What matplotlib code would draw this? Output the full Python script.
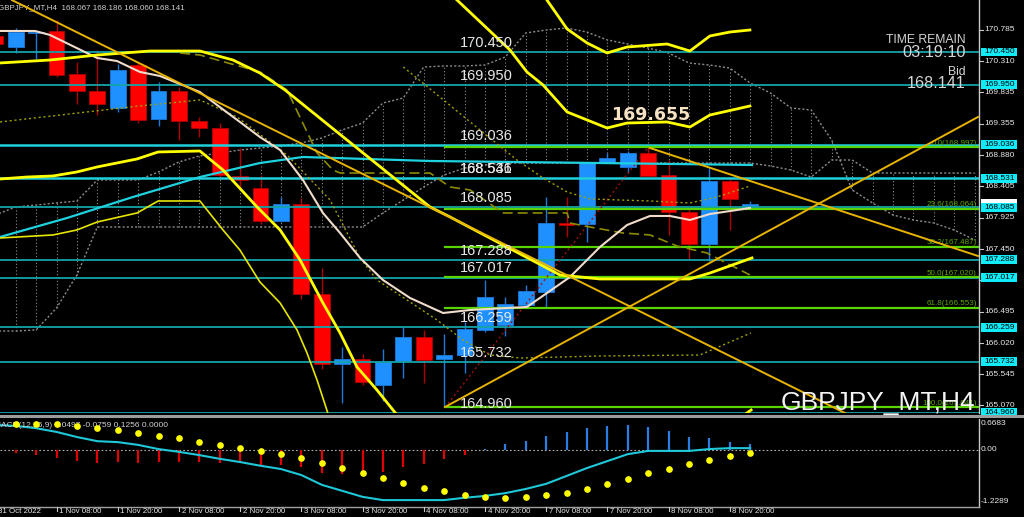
import matplotlib
matplotlib.use("Agg")
import matplotlib.pyplot as plt
import matplotlib.transforms as mtransforms
from matplotlib import font_manager
from matplotlib.patches import Rectangle

# ---------------- datos (indice de barra H4: 0 = 1 Nov 00:00) ----------------
bars = list(range(-1, 37))
opens = [170.694, 170.526, 170.739, 170.770, 170.115, 169.856, 169.598, 170.252, 169.430, 169.856,
         169.400, 169.293, 168.563, 168.380, 167.878, 168.136, 166.767, 165.701, 165.777, 165.382,
         165.747, 166.112, 165.777, 165.838, 166.219, 166.295, 166.599, 166.797, 167.847, 167.832,
         168.760, 168.700, 168.913, 168.578, 168.015, 167.528, 168.487, 168.067]
highs = [170.739, 170.815, 170.770, 170.937, 170.298, 170.480, 170.267, 170.298, 169.993, 169.917,
         169.461, 169.369, 168.989, 168.578, 168.243, 168.228, 167.162, 165.959, 165.853, 165.929,
         166.264, 166.219, 166.158, 166.340, 166.980, 166.721, 166.904, 168.243, 168.243, 168.760,
         168.913, 168.950, 168.997, 168.806, 168.060, 168.685, 168.532, 168.186]
lows = [170.526, 170.435, 170.343, 170.070, 169.658, 169.491, 169.537, 169.369, 169.324, 169.111,
        169.156, 168.532, 168.350, 167.832, 167.863, 166.691, 165.625, 165.107, 165.382, 165.138,
        165.488, 165.412, 165.041, 165.564, 166.188, 166.127, 166.599, 166.569, 167.634, 167.558,
        168.760, 168.608, 168.563, 167.665, 167.299, 167.269, 167.741, 168.060]
closes = [170.572, 170.754, 170.754, 170.100, 169.856, 169.658, 170.176, 169.415, 169.856, 169.400,
          169.293, 168.578, 168.502, 167.878, 168.136, 166.767, 165.701, 165.777, 165.427, 165.732,
          166.112, 165.762, 165.838, 166.234, 166.721, 166.615, 166.812, 167.847, 167.817, 168.760,
          168.836, 168.913, 168.563, 168.015, 167.528, 168.487, 168.213, 168.141]

# nube (lineas punteadas grises)
cloud_bars = list(range(-1, 48))
span_a = [167.969, 168.091, 168.121, 168.152, 168.182, 168.502, 168.502, 168.502, 168.624, 168.776,
          168.867, 168.913, 168.958, 168.989, 169.019, 169.065, 169.141, 169.263, 169.369, 169.674,
          169.750, 170.222, 170.237, 170.237, 170.252, 170.374, 170.739, 170.785, 170.815, 170.754,
          170.633, 170.572, 170.511, 170.435, 170.283, 170.252, 170.206, 169.978, 169.826, 169.598,
          169.567, 169.110, 168.350, 168.152, 167.969, 167.893, 167.847, 167.741, 167.589]
span_b = [166.203, 166.203, 166.219, 166.553, 167.056, 167.786, 167.786, 167.786, 167.786, 167.786,
          167.786, 167.786, 167.786, 167.786, 167.786, 167.786, 167.786, 167.786, 167.786, 168.000,
          168.197, 168.395, 168.578, 168.684, 168.730, 168.760, 168.760, 168.760, 168.760, 168.760,
          168.760, 168.760, 168.760, 168.760, 168.760, 168.760, 168.760, 168.760, 168.715, 168.654,
          168.547, 168.806, 168.806, 168.608, 168.608, 168.608, 168.608, 168.608, 168.608]

# bandas amarillas
band1_x = [-0.77, 1.68, 3.99, 6.58, 9.03, 10.65, 11.97, 13.20, 20.31, 21.29, 26.68, 28.64, 33.05, 34.03, 36.09]
band1_y = [170.283, 170.328, 170.404, 170.465, 170.465, 170.328, 170.130, 169.872, 168.091, 167.939,
           167.056, 166.995, 166.995, 167.086, 167.315]
band2_x = [-0.77, 0.55, 1.83, 3.00, 3.99, 5.95, 6.98, 9.03, 10.16, 11.83, 12.96, 13.94, 15.06, 15.90,
           16.73, 17.71, 18.69]
band2_y = [168.517, 168.547, 168.563, 168.624, 168.700, 168.822, 168.928, 168.943, 168.654, 168.091,
           167.741, 167.284, 166.630, 166.173, 165.655, 165.305, 164.925]
band3_x = [-0.77, 1.83, 3.00, 3.99, 5.95, 6.98, 9.03, 10.16, 10.99, 11.97, 12.96, 13.79, 14.28, 14.77, 15.41]
band3_y = [167.619, 167.665, 167.741, 167.862, 168.000, 168.182, 168.182, 167.741, 167.436, 166.949,
           166.630, 166.219, 165.868, 165.458, 164.849]
band4_x = [20.80, 24.23, 25.06, 25.85, 27.03, 28.99, 29.97, 31.93, 33.05, 34.03, 35.99]
band4_y = [171.485, 170.480, 170.146, 169.948, 169.537, 169.293, 169.369, 169.385, 169.308, 169.491, 169.628]
band5_x = [25.46, 27.03, 28.01, 28.99, 29.97, 31.93, 33.05, 34.03, 35.01, 35.99]
band5_y = [171.500, 170.800, 170.587, 170.435, 170.526, 170.572, 170.465, 170.694, 170.754, 170.785]
band6_x = [35.50, 36.05]
band6_y = [164.879, 165.001]

# medias moviles
ma_beige_x = [-0.77, 0.95, 1.68, 3.99, 4.96, 6.09, 7.07, 9.03, 9.87, 10.99, 11.97, 12.96, 14.08, 15.06,
              15.90, 16.88, 18.00, 19.33, 20.95, 22.27, 25.06, 27.17, 28.64, 29.97, 31.09, 32.07, 33.05,
              34.03, 35.36, 35.99]
ma_beige_y = [170.770, 170.770, 170.709, 170.359, 170.313, 170.146, 170.085, 169.841, 169.643, 169.385,
              169.156, 168.958, 168.502, 168.000, 167.695, 167.315, 166.980, 166.706, 166.477, 166.523,
              166.569, 167.025, 167.482, 167.817, 167.954, 167.954, 167.893, 167.984, 168.045, 168.076]
ma_cyan_x = [-0.77, 2.51, 5.75, 9.03, 11.97, 14.08, 20.31, 28.64, 36.09]
ma_cyan_y = [167.634, 167.923, 168.243, 168.547, 168.760, 168.852, 168.791, 168.760, 168.730]
olive_dot_x = [-0.77, 5.60, 9.03, 10.85, 13.30, 15.41, 16.88, 17.71, 20.65, 21.93, 23.25, 24.72, 28.64,
               33.54, 36.04]
olive_dot_y = [169.385, 169.613, 169.720, 169.461, 168.882, 168.197, 167.315, 166.980, 166.371, 166.066,
               165.838, 165.792, 165.823, 165.838, 166.173]
olive_up_x = [19.00, 22.76, 24.57, 25.85, 27.03, 28.15, 31.09, 33.05, 34.38, 35.99]
olive_up_y = [170.222, 169.263, 168.806, 168.532, 168.319, 168.213, 168.182, 168.152, 168.243, 168.410]
olive_dash_x = [8.06, 9.03, 11.97, 13.30, 14.77, 15.55, 15.90, 20.31, 21.29, 22.27, 23.89, 27.03, 27.17,
                28.15, 29.77, 31.09, 32.42, 33.88, 35.99]
olive_dash_y = [170.435, 170.404, 170.146, 169.872, 168.913, 168.654, 168.608, 168.608, 168.395, 168.350,
                168.000, 168.000, 167.847, 167.786, 167.695, 167.665, 167.497, 167.391, 167.056]

# lineas de tendencia (extremos)
trend_down1 = ([-0.18, 41.14], [171.24, 164.879])
trend_down2 = ([31.09, 47.17], [168.989, 167.345])
trend_up = ([21.05, 47.17], [165.047, 169.461])
fib_diag = ([21.05, 31.0], [165.041, 168.997])

# niveles horizontales
level_prices = [170.450, 169.950, 169.036, 168.531, 168.085, 167.288, 167.017, 166.259, 165.732, 164.960]
level_labels = ["170.450", "169.950", "169.036", "168.531", "168.085", "167.288", "167.017", "166.259",
                "165.732", "164.960"]
fib_levels = ["0.0", "23.6", "38.2", "50.0", "61.8", "100.0"]
fib_prices = [168.997, 168.064, 167.487, 167.020, 166.553, 165.041]
axis_prices = [170.785, 170.310, 169.835, 169.355, 168.880, 168.405, 167.925, 167.450, 166.975,
               166.495, 166.020, 165.545, 165.070]

# MACD
macd_hist = [-0.06, -0.11, -0.17, -0.23, -0.28, -0.26, -0.28, -0.26, -0.25, -0.25,
             -0.29, -0.28, -0.32, -0.32, -0.37, -0.49, -0.52, -0.54, -0.48, -0.37,
             -0.30, -0.20, -0.10, 0.03, 0.13, 0.19, 0.31, 0.39, 0.47, 0.52,
             0.54, 0.50, 0.41, 0.29, 0.25, 0.18, 0.12]
macd_line = [0.54, 0.52, 0.47, 0.39, 0.28, 0.19, 0.17, 0.11, 0.02, -0.04, -0.11, -0.19, -0.26,
             -0.34, -0.41, -0.54, -0.75, -0.88, -1.01, -1.08, -1.08, -1.08, -1.08, -1.03, -0.99,
             -0.93, -0.84, -0.73, -0.56, -0.39, -0.24, -0.09, -0.02, -0.02, -0.02, 0.02, 0.04, 0.04]
macd_signal = [0.56, 0.56, 0.56, 0.52, 0.47, 0.43, 0.37, 0.30, 0.26, 0.17, 0.11, 0.04, -0.02,
               -0.09, -0.17, -0.28, -0.39, -0.50, -0.60, -0.71, -0.82, -0.88, -0.97, -1.01, -1.03,
               -1.01, -0.97, -0.93, -0.84, -0.73, -0.62, -0.50, -0.41, -0.30, -0.22, -0.13, -0.06]

time_bars = [-1, 2, 5, 8, 11, 14, 17, 20, 23, 26, 29, 32, 35]
time_labels = ["31 Oct 2022", "1 Nov 08:00", "1 Nov 20:00", "2 Nov 08:00", "2 Nov 20:00", "3 Nov 08:00",
               "3 Nov 20:00", "4 Nov 08:00", "4 Nov 20:00", "7 Nov 08:00", "7 Nov 20:00", "8 Nov 08:00",
               "8 Nov 20:00"]

# fuente estrecha si existe; si no, Liberation Sans reducida
_names = {f.name for f in font_manager.fontManager.ttflist}
if "Liberation Sans Narrow" in _names:
    NARROW, NS = "Liberation Sans Narrow", 1.0
else:
    NARROW, NS = "Liberation Sans", 0.83
REG = ["Liberation Sans", "DejaVu Sans"]
RED = "#ff0000"
BLUE = "#1e90ff"
TEAL = "#14a3a8"
FIB = "#5ad400"

fig = plt.figure(figsize=(10.24, 5.17), dpi=100, facecolor="black")
ax = fig.add_axes([0, 104 / 517, 979 / 1024, 413 / 517])
axm = fig.add_axes([0, 10 / 517, 979 / 1024, 88 / 517])
for a in (ax, axm):
    a.set_facecolor("black")
    a.set_xlim(-0.77, 47.22)
    a.set_xticks([])
    a.set_yticks([])
    for s in a.spines.values():
        s.set_visible(False)
ax.set_ylim(164.955, 171.2415)
axm.set_ylim(-1.2289, 0.6683)

# nube
for k, a_, b_ in zip(cloud_bars, span_a, span_b):
    ax.vlines(k, min(a_, b_), max(a_, b_), colors="#8c8c8c", lw=0.8, linestyles=(0, (1, 2)), zorder=1)
ax.plot(cloud_bars, span_a, color="#8c8c8c", lw=1, ls=(0, (1.5, 1.5)), zorder=1)
ax.plot(cloud_bars, span_b, color="#8c8c8c", lw=1, ls=(0, (1.5, 1.5)), zorder=1)

# velas
w = 0.78
for k, o, h, l, c in zip(bars, opens, highs, lows, closes):
    up = c >= o
    col = BLUE if up else RED
    wick = "#1e78d8" if up else "#b00000"
    ax.vlines(k, l, h, colors=wick, lw=1, zorder=3)
    ax.add_patch(Rectangle((k - w / 2, min(o, c)), w, max(abs(c - o), 0.012),
                           facecolor=col, edgecolor=wick, lw=0.6, zorder=4))

# niveles horizontales
for p in level_prices:
    bright = p in (169.036, 168.531)
    ax.axhline(p, color="#1fd0dc" if bright else TEAL, lw=1.8 if bright else 1.3, zorder=5)

# fibonacci
for lvl, p in zip(fib_levels, fib_prices):
    ax.plot([fib_diag[0][0], 47.22], [p, p], color=FIB, lw=1.6, zorder=6)
    ax.annotate(f"{lvl}({p:.3f})", xy=(47.12, p), xytext=(0, 0.5), textcoords="offset points",
                ha="right", va="bottom", fontsize=7 * NS, color="#5aa800", family=NARROW, zorder=7)
ax.plot(*fib_diag, color="#a01010", lw=1, ls=(0, (1.5, 2)), zorder=6)

# indicadores
ax.plot(olive_dot_x, olive_dot_y, color="#a0a000", lw=1, ls=(0, (1.5, 2)), zorder=6)
ax.plot(olive_up_x, olive_up_y, color="#a0a000", lw=1, ls=(0, (1.5, 2)), zorder=6)
ax.plot(olive_dash_x, olive_dash_y, color="#8c8c00", lw=1.2, ls=(0, (6, 3)), zorder=6)
ax.plot(ma_cyan_x, ma_cyan_y, color="#1ed2e0", lw=1.6, zorder=7)
ax.plot(ma_beige_x, ma_beige_y, color="#f0dccb", lw=1.5, zorder=7)
for bx, by in ((band1_x, band1_y), (band2_x, band2_y), (band4_x, band4_y), (band5_x, band5_y),
               (band6_x, band6_y)):
    ax.plot(bx, by, color="#ffff00", lw=2, zorder=8)
ax.plot(band3_x, band3_y, color="#e6e600", lw=1.2, zorder=8)
for tl in (trend_down1, trend_down2, trend_up):
    ax.plot(*tl, color="#e8b400", lw=1.4, zorder=8)

# etiquetas de niveles
for p, lab in zip(level_prices, level_labels):
    ax.annotate(lab, xy=(21.78, p), xytext=(0, 1.5), textcoords="offset points", ha="left",
                va="bottom", fontsize=10.5, color="#e8e8e8", family=REG, zorder=9)
ax.annotate("168.546", xy=(21.78, 168.531), xytext=(0, 1.5), textcoords="offset points", ha="left",
            va="bottom", fontsize=10.5, color="#e8e8e8", family=REG, zorder=9)
ax.text(31.14, 169.415, "169.655", ha="center", va="baseline", fontsize=12.5, fontweight="bold",
        color="#f5e3c3", family="DejaVu Sans", zorder=9)

# textos
ax.text(-0.002, 0.978, "GBPJPY_MT,H4  168.067 168.186 168.060 168.141", transform=ax.transAxes,
        fontsize=7 * NS, color="#d0d0d0", family=NARROW, va="baseline")
for txt, yb, fs in (("TIME REMAIN", 0.896, 10.5), ("03:19:10", 0.862, 14.2), ("Bid", 0.818, 10.5),
                    ("168.141", 0.787, 14)):
    ax.text(0.9867, yb, txt, transform=ax.transAxes, ha="right", va="baseline", fontsize=fs * NS,
            color="#d4d4d4", family=NARROW, zorder=10)
ax.text(0.7978, 0.0073, "GBPJPY_MT,H4", transform=ax.transAxes, ha="left", va="baseline",
        fontsize=19, color="#f4f4f4", family=REG, zorder=10)

# eje de precios
trans = mtransforms.blended_transform_factory(ax.transAxes, ax.transData)
ax.plot([1, 1], [0, 1], transform=ax.transAxes, color="#c8c8c8", lw=1, clip_on=False)
for p in axis_prices:
    ax.plot([1, 1.004], [p, p], transform=trans, color="#c8c8c8", lw=0.8, clip_on=False)
    ax.text(1.0055, p, f"{p:.3f}", transform=trans, ha="left", va="center", fontsize=7.3 * NS,
            color="#e8e8e8", family=NARROW, clip_on=False)
box_h = 0.068
ax.add_patch(Rectangle((1.002, 168.141 - box_h), 0.037, 2 * box_h, transform=trans, facecolor="white",
                       edgecolor="none", clip_on=False, zorder=11))
for p, lab in zip(level_prices, level_labels):
    ax.add_patch(Rectangle((1.002, p - box_h), 0.037, 2 * box_h, transform=trans, facecolor="#10ecfa",
                           edgecolor="none", clip_on=False, zorder=12))
    ax.text(1.0055, p, lab, transform=trans, ha="left", va="center", fontsize=7.3 * NS, color="black",
            family=NARROW, clip_on=False, zorder=13)

# separador
fig.patches.append(Rectangle((0, 99 / 517), 1, 3 / 517, transform=fig.transFigure,
                             facecolor="#9c9c9c", edgecolor="none"))

# MACD
hist_bars = bars[1:]
for k, v in zip(hist_bars, macd_hist):
    axm.vlines(k, 0, v, colors="#2a7de1" if v > 0 else "#e00000", lw=1.6, zorder=2)
axm.axhline(0, color="#b0b0b0", lw=0.8, ls=(0, (1.5, 2)), zorder=1)
axm.plot(bars, macd_line, color="#1ec8d8", lw=1.5, zorder=3)
axm.plot(hist_bars, macd_signal, ls="none", marker="o", ms=3.8, color="#ffff00", zorder=4)
axm.text(-0.006, 0.93, "MACD(12,26,9) 0.0497 -0.0759 0.1256 0.0000", transform=axm.transAxes,
         fontsize=7.3 * NS, color="#d0d0d0", family=NARROW, va="center")
axm.plot([1, 1], [0, 1], transform=axm.transAxes, color="#c8c8c8", lw=1, clip_on=False)
axm.plot([0, 1], [0, 0], transform=axm.transAxes, color="#a0a0a0", lw=1, clip_on=False)
mtrans = mtransforms.blended_transform_factory(axm.transAxes, axm.transData)
for v, lab, dy in ((0.6683, "0.6683", -0.09), (0.0, "0.00", 0.0), (-1.2289, "-1.2289", 0.12)):
    axm.text(1.002, v + dy, lab, transform=mtrans, ha="left", va="center", fontsize=7.3 * NS,
             color="#e8e8e8", family=NARROW, clip_on=False)

# eje de tiempo
ttrans = mtransforms.blended_transform_factory(axm.transData, axm.transAxes)
for k, lab in zip(time_bars, time_labels):
    axm.plot([k, k], [0, -0.04], transform=ttrans, color="#c8c8c8", lw=0.8, clip_on=False)
    axm.annotate(lab, xy=(k, -0.015), xycoords=ttrans, xytext=(2, 0), textcoords="offset points",
                 ha="left", va="top", fontsize=6.8 * NS, color="#e8e8e8", family=NARROW,
                 annotation_clip=False)

fig.savefig("out.png", dpi=100, facecolor="black")
